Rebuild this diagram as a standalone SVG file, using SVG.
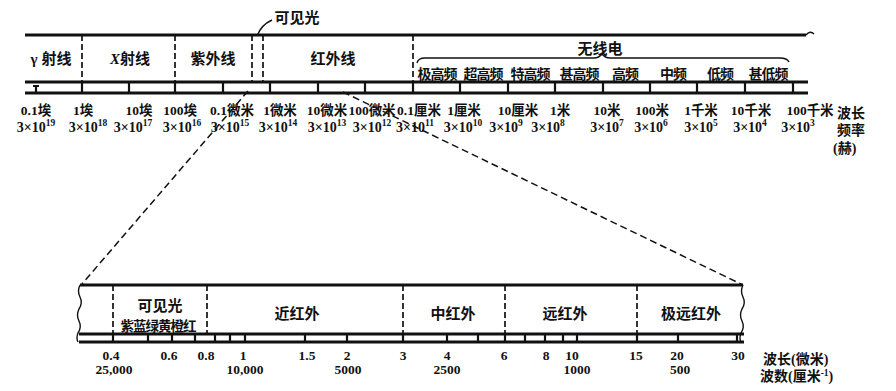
<svg xmlns="http://www.w3.org/2000/svg" width="896" height="391" viewBox="0 0 896 391">
<style>
  text { font-family: "Liberation Serif", "Noto Sans CJK SC", serif; font-weight: bold; fill: #111; }
  .lbl { font-size: 15px; text-anchor: middle; }
  .sub { font-size: 14px; text-anchor: middle; letter-spacing: -1px; }
  .num { font-size: 13.5px; text-anchor: middle; }
  .frq { font-size: 14px; text-anchor: middle; }
  .sup { font-size: 9.5px; }
  .side { font-size: 14px; }
  .thick { stroke: #111; stroke-width: 2.8; fill: none; }
  .tick { stroke: #111; stroke-width: 2.2; fill: none; }
  .sep { stroke: #111; stroke-width: 1.7; stroke-dasharray: 6 3; fill: none; }
  .proj { stroke: #111; stroke-width: 1.5; stroke-dasharray: 7 4; fill: none; }
  .thin { stroke: #111; stroke-width: 1.4; fill: none; }
</style>

<g id="connectors">
  <path class="proj" d="M248,91 L82,284"/>
  <path class="proj" d="M343,92 L743,285"/>
  <path class="thin" d="M257,36 Q261,25 272,20"/>
</g>

<g id="spectrum">
  <path class="thick" d="M25,35 H806"/>
  <path class="thin" d="M806,35 q4,-5 8,-1"/>
  <path class="thick" d="M25,82 H808"/>
  <path class="thick" d="M25,93 H808"/>
  <g class="tick">
    <path d="M36,85 V93 M33,86 H39"/>
    <path d="M82,82 V93"/><path d="M129,82 V93"/><path d="M175,82 V93"/><path d="M223,82 V93"/>
    <path d="M270,82 V93"/><path d="M318,82 V93"/><path d="M365,82 V93"/><path d="M413,82 V93"/>
    <path d="M460,82 V93"/><path d="M508,82 V93"/><path d="M555,82 V93"/><path d="M603,82 V93"/>
    <path d="M650,82 V93"/><path d="M697,82 V93"/><path d="M745,82 V93"/><path d="M793,82 V93"/>
  </g>
  <path class="sep" d="M82,35 V82"/>
  <path class="sep" d="M175,35 V82"/>
  <path class="sep" d="M252,35 V82"/>
  <path class="sep" d="M263,35 V82"/>
  <path class="sep" d="M413,35 V82"/>
  <path class="thin" d="M417,63 q1,-5 8,-5 H594 q5,0 8,-4 q3,4 8,4 H780 q7,0 9,4"/>
</g>

<g id="gamma"><text class="lbl" x="51" y="64">γ 射线</text></g>
<g id="xray"><text class="lbl" x="130" y="64"><tspan font-style="italic">X</tspan>射线</text></g>
<g id="uv"><text class="lbl" x="213" y="64">紫外线</text></g>
<g id="visible"><text class="lbl" x="297" y="23">可见光</text></g>
<g id="ir"><text class="lbl" x="333" y="64">红外线</text></g>
<g id="radio">
  <text class="lbl" x="600" y="54">无线电</text>
  <text class="sub" x="437" y="79">极高频</text>
  <text class="sub" x="483" y="79">超高频</text>
  <text class="sub" x="530" y="79">特高频</text>
  <text class="sub" x="579" y="79">甚高频</text>
  <text class="sub" x="625" y="79">高频</text>
  <text class="sub" x="673" y="79">中频</text>
  <text class="sub" x="720" y="79">低频</text>
  <text class="sub" x="768" y="79">甚低频</text>
</g>

<g id="wavelengths">
  <text class="num" x="36" y="115">0.1埃</text>
  <text class="num" x="83" y="115">1埃</text>
  <text class="num" x="139" y="115">10埃</text>
  <text class="num" x="180" y="115">100埃</text>
  <text class="num" x="232" y="115">0.1微米</text>
  <text class="num" x="280" y="115">1微米</text>
  <text class="num" x="327" y="115">10微米</text>
  <text class="num" x="372" y="115">100微米</text>
  <text class="num" x="419" y="115">0.1厘米</text>
  <text class="num" x="464" y="115">1厘米</text>
  <text class="num" x="518" y="115">10厘米</text>
  <text class="num" x="560" y="115">1米</text>
  <text class="num" x="607" y="115">10米</text>
  <text class="num" x="652" y="115">100米</text>
  <text class="num" x="701" y="115">1千米</text>
  <text class="num" x="751" y="115">10千米</text>
  <text class="num" x="810" y="115">100千米</text>
  <text class="side" x="837" y="118">波长</text>
</g>

<g id="frequencies">
  <text class="frq" x="36" y="132">3×10<tspan class="sup" dy="-6">19</tspan></text>
  <text class="frq" x="88" y="132">3×10<tspan class="sup" dy="-6">18</tspan></text>
  <text class="frq" x="133" y="132">3×10<tspan class="sup" dy="-6">17</tspan></text>
  <text class="frq" x="182" y="132">3×10<tspan class="sup" dy="-6">16</tspan></text>
  <text class="frq" x="230" y="132">3×10<tspan class="sup" dy="-6">15</tspan></text>
  <text class="frq" x="278" y="132">3×10<tspan class="sup" dy="-6">14</tspan></text>
  <text class="frq" x="327" y="132">3×10<tspan class="sup" dy="-6">13</tspan></text>
  <text class="frq" x="372" y="132">3×10<tspan class="sup" dy="-6">12</tspan></text>
  <text class="frq" x="415" y="132">3×10<tspan class="sup" dy="-6">11</tspan></text>
  <text class="frq" x="463" y="132">3×10<tspan class="sup" dy="-6">10</tspan></text>
  <text class="frq" x="506" y="132">3×10<tspan class="sup" dy="-6">9</tspan></text>
  <text class="frq" x="548" y="132">3×10<tspan class="sup" dy="-6">8</tspan></text>
  <text class="frq" x="607" y="132">3×10<tspan class="sup" dy="-6">7</tspan></text>
  <text class="frq" x="651" y="132">3×10<tspan class="sup" dy="-6">6</tspan></text>
  <text class="frq" x="701" y="132">3×10<tspan class="sup" dy="-6">5</tspan></text>
  <text class="frq" x="750" y="132">3×10<tspan class="sup" dy="-6">4</tspan></text>
  <text class="frq" x="798" y="132">3×10<tspan class="sup" dy="-6">3</tspan></text>
  <text class="side" x="837" y="135">频率</text>
  <text class="side" x="833" y="153">(赫)</text>
</g>

<g id="infrared-detail">
  <path class="thick" d="M80,285 H743"/>
  <path class="thick" d="M79,334 H744"/>
  <path class="thick" d="M79,342 H744"/>
  <path class="thin" d="M80,285 q-3,6 0,12 q3,6 -1,12 q-3,6 0,12 q3,6 -1,12 q-2,5 0,9"/>
  <path class="thin" d="M743,285 q-3,6 0,12 q3,6 -1,12 q-3,6 0,12 q3,6 -1,12 q-2,5 0,9"/>
  <g class="tick">
    <path d="M113,334 V342"/><path d="M148,334 V342"/><path d="M172,334 V342"/><path d="M195,334 V342"/>
    <path d="M215,334 V342"/><path d="M230,334 V342"/><path d="M245,334 V342"/><path d="M305,334 V342"/>
    <path d="M347,334 V342"/><path d="M403,334 V342"/><path d="M447,334 V342"/><path d="M478,334 V342"/>
    <path d="M505,334 V342"/><path d="M525,334 V342"/><path d="M545,334 V342"/><path d="M563,334 V342"/>
    <path d="M577,334 V342"/><path d="M637,334 V342"/><path d="M678,334 V342"/><path d="M737,334 V342"/>
  </g>
  <path class="sep" d="M113,285 V334"/>
  <path class="sep" d="M207,285 V334"/>
  <path class="sep" d="M403,285 V334"/>
  <path class="sep" d="M505,285 V334"/>
  <path class="sep" d="M637,285 V334"/>
</g>

<g id="vis-detail">
  <text class="lbl" x="160" y="311">可见光</text>
  <text class="sub" x="158" y="331" style="font-size:13.5px;letter-spacing:-1px">紫蓝绿黄橙红</text>
</g>
<g id="near-ir"><text class="lbl" x="297" y="319">近红外</text></g>
<g id="mid-ir"><text class="lbl" x="453" y="319">中红外</text></g>
<g id="far-ir"><text class="lbl" x="565" y="319">远红外</text></g>
<g id="xfar-ir"><text class="lbl" x="691" y="319">极远红外</text></g>

<g id="ir-scale">
  <text class="num" x="111" y="360">0.4</text>
  <text class="num" x="169" y="360">0.6</text>
  <text class="num" x="206" y="360">0.8</text>
  <text class="num" x="243" y="360">1</text>
  <text class="num" x="307" y="360">1.5</text>
  <text class="num" x="347" y="360">2</text>
  <text class="num" x="403" y="360">3</text>
  <text class="num" x="447" y="360">4</text>
  <text class="num" x="504" y="360">6</text>
  <text class="num" x="546" y="360">8</text>
  <text class="num" x="572" y="360">10</text>
  <text class="num" x="636" y="360">15</text>
  <text class="num" x="677" y="360">20</text>
  <text class="num" x="738" y="360">30</text>
  <text class="num" x="114" y="374">25,000</text>
  <text class="num" x="245" y="374">10,000</text>
  <text class="num" x="348" y="374">5000</text>
  <text class="num" x="447" y="374">2500</text>
  <text class="num" x="577" y="374">1000</text>
  <text class="num" x="680" y="374">500</text>
  <text class="side" x="763" y="364">波长(微米)</text>
  <text class="side" x="760" y="381">波数(厘米<tspan class="sup" dy="-5">-1</tspan><tspan dy="5">)</tspan></text>
</g>
</svg>
